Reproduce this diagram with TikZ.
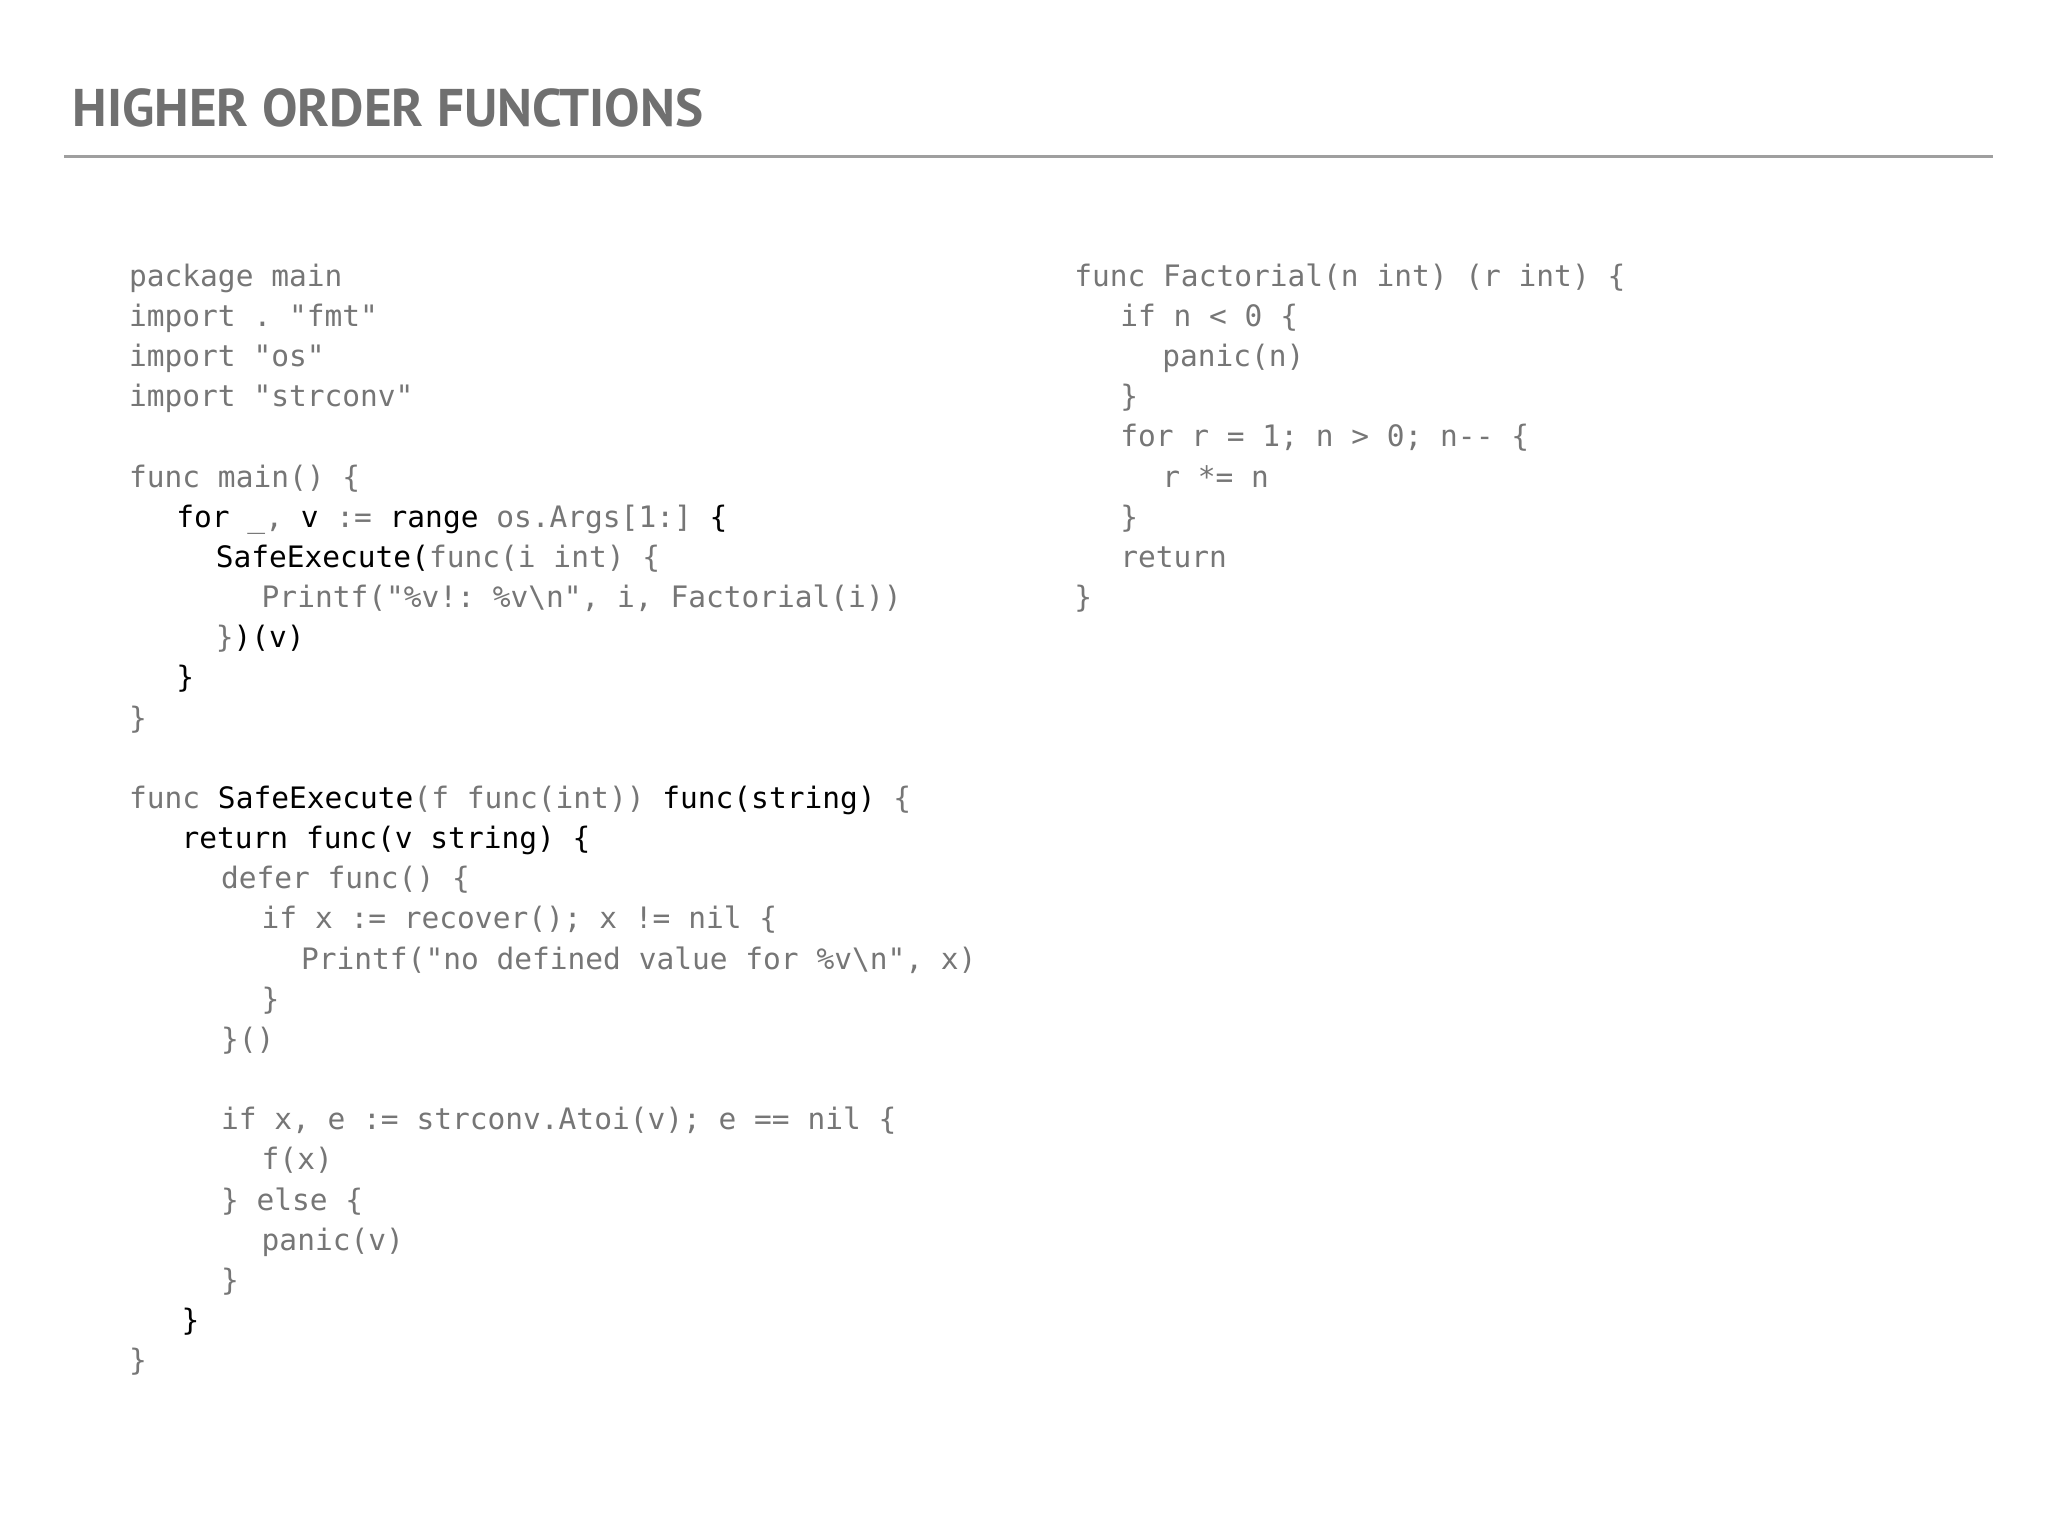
\documentclass[tikz,border=0pt]{standalone}
\usepackage{fontspec}
\setmainfont{PT Sans}
\setmonofont{DejaVu Sans Mono}
\definecolor{cg}{HTML}{767676}
\definecolor{tg}{HTML}{707070}
\newcommand\K[1]{\textcolor{black}{#1}}
\begin{document}
\begin{tikzpicture}[x=0.02cm,y=-0.02cm,
  code/.style={anchor=base west,inner sep=0,text=cg,font=\ttfamily\fontsize{12.8pt}{15pt}\selectfont},
  ttl/.style={anchor=base west,inner sep=0,text=tg,font=\bfseries\fontsize{23pt}{26pt}\selectfont}]
\useasboundingbox[fill=white] (0,0) rectangle (1560,1170);
\node[ttl] (title) at (55,96) {HIGHER ORDER FUNCTIONS};
\coordinate (r1) at (49,119); \coordinate (r2) at (1518,119);
\draw[line width=1.2pt,color=gray!75] (r1) -- (r2);
\def\ly#1{218+#1*30.6}
\node[code] (a0) at (98,{\ly{0}}) {package main};
\node[code] (a1) at (98,{\ly{1}}) {import . "fmt"};
\node[code] (a2) at (98,{\ly{2}}) {import "os"};
\node[code] (a3) at (98,{\ly{3}}) {import "strconv"};
\node[code] (a5) at (98,{\ly{5}}) {func main() \{};
\node[code] (a6) at (134,{\ly{6}}) {\K{for} \_, \K{v} := \K{range} os.Args[1:] \K{\{}};
\node[code] (a7) at (164,{\ly{7}}) {\K{SafeExecute(}func(i int) \{};
\node[code] (a8) at (199,{\ly{8}}) {Printf("\%v!: \%v\textbackslash n", i, Factorial(i))};
\node[code] (a9) at (164,{\ly{9}}) {\}\K{)(v)}};
\node[code] (a10) at (134,{\ly{10}}) {\K{\}}};
\node[code] (a11) at (98,{\ly{11}}) {\}};
\node[code] (a13) at (98,{\ly{13}}) {func \K{SafeExecute}(f func(int)) \K{func(string)} \{};
\node[code] (a14) at (138,{\ly{14}}) {\K{return func(v string) \{}};
\node[code] (a15) at (168,{\ly{15}}) {defer func() \{};
\node[code] (a16) at (199,{\ly{16}}) {if x := recover(); x != nil \{};
\node[code] (a17) at (229,{\ly{17}}) {Printf("no defined value for \%v\textbackslash n", x)};
\node[code] (a18) at (199,{\ly{18}}) {\}};
\node[code] (a19) at (168,{\ly{19}}) {\}()};
\node[code] (a21) at (168,{\ly{21}}) {if x, e := strconv.Atoi(v); e == nil \{};
\node[code] (a22) at (199,{\ly{22}}) {f(x)};
\node[code] (a23) at (168,{\ly{23}}) {\} else \{};
\node[code] (a24) at (199,{\ly{24}}) {panic(v)};
\node[code] (a25) at (168,{\ly{25}}) {\}};
\node[code] (a26) at (138,{\ly{26}}) {\K{\}}};
\node[code] (a27) at (98,{\ly{27}}) {\}};
\node[code] (b0) at (818,{\ly{0}}) {func Factorial(n int) (r int) \{};
\node[code] (b1) at (853,{\ly{1}}) {if n < 0 \{};
\node[code] (b2) at (885,{\ly{2}}) {panic(n)};
\node[code] (b3) at (853,{\ly{3}}) {\}};
\node[code] (b4) at (853,{\ly{4}}) {for r = 1; n > 0; n-{}- \{};
\node[code] (b5) at (885,{\ly{5}}) {r *= n};
\node[code] (b6) at (853,{\ly{6}}) {\}};
\node[code] (b7) at (853,{\ly{7}}) {return};
\node[code] (b8) at (818,{\ly{8}}) {\}};
\end{tikzpicture}
\end{document}
